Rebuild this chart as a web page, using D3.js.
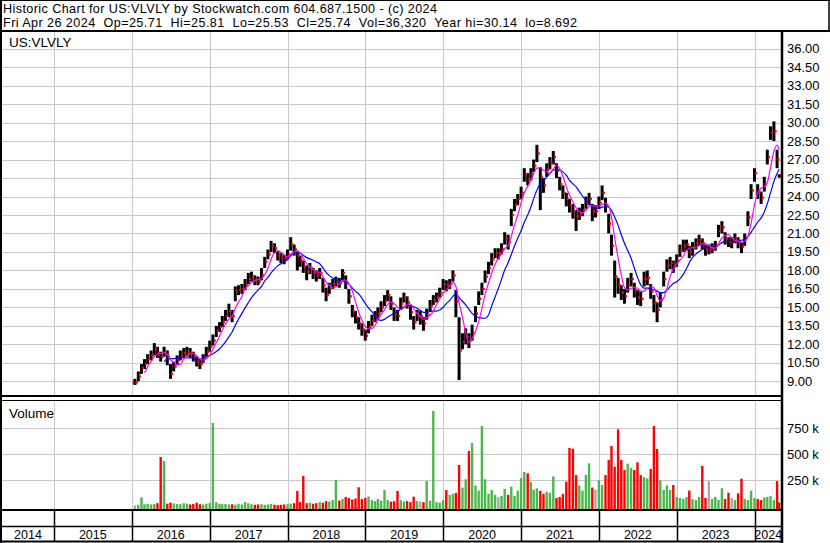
<!DOCTYPE html>
<html>
<head>
<meta charset="utf-8">
<script src="https://cdn.jsdelivr.net/npm/d3@7"></script>
<style>
body { margin: 0; background: #fff; }
svg { display: block; font-family: "Liberation Sans", Arial, sans-serif; }
</style>
</head>
<body>
<svg id="chart" width="830" height="543"></svg>
<script>
// half-month samples, Jan 16 2016 .. Apr 16 2024, then the last session (Apr 26 2024)
let closes = [
  8.9, 9.4, 10.1, 10.4, 10.8, 11.1, 11.6, 11.3, 11.0, 11.4, 11.0, 9.6, 10.2, 10.7, 11.0, 11.3, 11.4, 11.3, 11.0, 10.6, 10.4, 10.9, 11.4,
  11.8, 12.3, 13.1, 13.4, 13.8, 14.3, 14.7, 14.3, 16.3, 16.4, 16.5, 16.8, 17.3, 17.5, 17.2, 17.1, 17.6, 18.7, 19.3, 20.0, 19.8, 19.2, 19.0, 18.9,
  19.3, 20.1, 19.7, 19.2, 18.8, 18.3, 17.9, 18.2, 17.8, 17.6, 17.8, 16.8, 16.0, 16.6, 16.9, 17.1, 17.0, 17.8, 17.0, 15.9, 14.7, 14.2, 13.7, 13.2,
  12.7, 13.4, 13.9, 14.2, 14.5, 15.0, 15.5, 16.0, 15.3, 14.5, 14.3, 15.3, 15.8, 15.4, 14.6, 13.8, 14.3, 14.3, 13.7, 14.4, 15.1, 15.6, 15.8, 16.2,
  16.9, 16.8, 16.9, 17.6, 15.5, 11.5, 12.2, 12.6, 12.3, 12.9, 14.5, 15.7, 16.5, 17.5, 18.2, 18.9, 19.4, 19.4, 19.7, 20.6, 20.3, 22.5, 23.3, 23.8,
  24.3, 25.8, 25.4, 25.8, 26.5, 27.5, 25.6, 24.9, 26.2, 26.7, 27.2, 26.1, 25.0, 24.3, 23.8, 23.3, 22.8, 22.4, 22.6, 22.9, 23.5, 23.8, 22.8, 22.8,
  23.5, 24.3, 23.3, 21.8, 20.0, 17.5, 16.8, 16.2, 15.9, 16.8, 17.3, 16.4, 15.8, 15.7, 17.3, 17.4, 16.3, 15.4, 14.8, 15.6, 17.3, 18.4, 18.6, 18.3,
  18.8, 19.6, 20.0, 20.1, 19.5, 19.8, 20.2, 20.5, 20.2, 19.7, 19.7, 19.8, 20.0, 21.2, 21.5, 20.6, 20.3, 20.3, 20.6, 20.3, 19.9, 20.6, 22.3, 24.5,
  25.9, 24.4, 23.9, 25.0, 27.2, 29.2, 29.3, 27.0, 25.74];

let highs = [
  9.2, 9.8, 10.4, 10.8, 11.2, 11.5, 12.1, 11.8, 11.4, 11.8, 11.5, 10.4, 10.6, 11.1, 11.5, 11.7, 11.8, 11.7, 11.4, 11.0, 10.8, 11.2, 11.8,
  12.3, 12.8, 13.5, 13.8, 14.3, 14.8, 15.3, 14.8, 16.7, 16.8, 16.9, 17.3, 17.8, 17.9, 17.6, 17.5, 18.2, 19.1, 19.7, 20.4, 20.2, 19.6, 19.4, 19.3,
  19.7, 20.7, 20.1, 19.6, 19.2, 18.8, 18.4, 18.6, 18.2, 18.0, 18.2, 17.4, 16.6, 17.0, 17.3, 17.5, 17.4, 18.1, 17.6, 16.5, 15.2, 14.7, 14.2, 13.7,
  13.2, 13.9, 14.4, 14.7, 15.0, 15.5, 16.0, 16.4, 15.9, 15.0, 14.8, 15.8, 16.2, 15.9, 15.1, 14.3, 14.8, 14.7, 14.2, 14.9, 15.6, 16.0, 16.2, 16.6,
  17.3, 17.2, 17.3, 18.0, 16.4, 14.2, 12.9, 13.3, 12.9, 13.6, 15.1, 16.3, 17.0, 18.0, 18.7, 19.4, 19.8, 19.8, 20.2, 21.1, 20.9, 23.0, 23.8, 24.2,
  24.8, 26.3, 25.9, 26.3, 27.0, 28.2, 26.4, 25.5, 26.7, 27.2, 27.7, 26.7, 25.6, 24.9, 24.3, 23.8, 23.4, 22.9, 23.1, 23.4, 24.0, 24.3, 23.4, 23.3,
  24.0, 24.9, 23.9, 22.6, 20.9, 18.8, 17.4, 16.8, 16.5, 17.4, 17.8, 17.0, 16.4, 16.3, 17.9, 18.0, 16.9, 16.0, 15.4, 16.2, 17.9, 18.9, 19.1, 18.8,
  19.3, 20.1, 20.5, 20.5, 20.0, 20.3, 20.6, 20.9, 20.6, 20.1, 20.1, 20.2, 20.4, 21.7, 22.0, 21.1, 20.7, 20.7, 21.0, 20.7, 20.3, 21.0, 22.8, 25.0,
  26.3, 25.0, 24.4, 25.6, 27.8, 29.7, 30.1, 27.8, 25.81];

let lows = [
  8.7, 9.0, 9.6, 10.0, 10.4, 10.7, 11.1, 10.9, 10.6, 11.0, 10.3, 9.2, 9.8, 10.3, 10.7, 10.9, 11.0, 10.9, 10.6, 10.2, 10.0, 10.5, 11.0,
  11.4, 11.9, 12.6, 13.0, 13.4, 13.9, 14.2, 13.8, 15.5, 16.0, 16.1, 16.4, 16.9, 17.1, 16.8, 16.8, 17.2, 18.2, 18.9, 19.5, 19.4, 18.8, 18.6, 18.5,
  18.9, 19.6, 19.2, 18.0, 18.3, 17.8, 17.2, 17.7, 17.3, 17.1, 17.3, 16.2, 15.5, 16.1, 16.5, 16.7, 16.6, 17.2, 16.5, 15.3, 14.2, 13.7, 13.2, 12.7,
  12.3, 12.9, 13.5, 13.8, 14.1, 14.6, 15.1, 15.5, 14.8, 13.9, 13.9, 14.8, 15.4, 14.9, 14.0, 13.2, 13.9, 13.6, 13.1, 14.0, 14.7, 15.2, 15.4, 15.8,
  16.4, 16.3, 16.5, 17.1, 14.2, 9.1, 11.6, 12.0, 11.7, 12.3, 13.8, 15.2, 16.0, 17.0, 17.7, 18.4, 19.0, 18.9, 19.3, 20.1, 19.7, 21.6, 22.8, 23.3,
  23.8, 25.2, 24.9, 25.3, 26.0, 26.8, 22.9, 24.3, 25.6, 26.2, 26.6, 25.5, 24.5, 23.8, 23.2, 22.7, 22.2, 21.2, 22.1, 22.4, 23.0, 23.3, 22.0, 22.3,
  23.0, 23.7, 22.7, 21.0, 19.2, 15.8, 16.1, 15.6, 15.3, 16.2, 16.7, 15.8, 15.2, 15.1, 16.7, 16.8, 15.7, 14.6, 13.8, 15.0, 16.7, 17.9, 18.1, 17.8,
  18.3, 19.1, 19.5, 19.6, 19.0, 19.2, 19.7, 20.0, 19.7, 19.2, 19.3, 19.4, 19.6, 20.7, 21.0, 20.1, 19.9, 19.8, 20.2, 19.8, 19.4, 20.0, 21.6, 23.8,
  25.2, 23.8, 23.4, 24.4, 26.6, 28.6, 28.5, 26.3, 25.53];

// peak daily volume in each half month, thousands of shares
let volumes = [
  8, 15, 86, 20, 25, 18, 22, 30, 474, 436, 25, 35, 28, 22, 20, 30, 25, 18, 22, 35, 20, 18, 25,
  30, 801, 40, 25, 20, 22, 18, 20, 15, 25, 18, 42, 30, 20, 15, 18, 20, 15, 18, 22, 15, 12, 15, 18,
  20, 25, 30, 147, 40, 291, 30, 35, 25, 30, 40, 35, 50, 45, 60, 253, 55, 70, 90, 80, 65, 75, 183, 70,
  80, 95, 60, 50, 70, 55, 157, 60, 45, 50, 147, 60, 45, 50, 40, 93, 50, 45, 40, 243, 55, 916, 40, 35,
  60, 157, 110, 120, 130, 397, 180, 260, 532, 609, 200, 150, 772, 260, 120, 157, 110, 90, 100, 167, 110, 189, 100, 150,
  272, 330, 317, 234, 160, 173, 150, 120, 140, 130, 288, 80, 90, 120, 237, 561, 554, 301, 200, 150, 301, 413, 180, 160,
  250, 205, 300, 445, 580, 380, 740, 445, 350, 410, 370, 349, 423, 300, 280, 269, 359, 772, 551, 250, 157, 200, 157, 205,
  90, 80, 70, 90, 151, 70, 60, 90, 388, 80, 243, 70, 90, 60, 173, 70, 130, 80, 60, 125, 265, 70, 60, 150,
  80, 70, 60, 86, 90, 100, 61, 243, 36];

let priceTicks = [9, 10.5, 12, 13.5, 15, 16.5, 18, 19.5, 21, 22.5, 24, 25.5, 27, 28.5, 30, 31.5, 33, 34.5, 36];
let volTicks = [250, 500, 750];
let years = [2014, 2015, 2016, 2017, 2018, 2019, 2020, 2021, 2022, 2023, 2024];

let titleLine1 = "Historic Chart for US:VLVLY by Stockwatch.com 604.687.1500 - (c) 2024";
let titleLine2 = "Fri Apr 26 2024  Op=25.71  Hi=25.81  Lo=25.53  Cl=25.74  Vol=36,320  Year hi=30.14  lo=8.692";

let dates = d3.range(1, 200).map(k => new Date(2016, Math.floor(k / 2), k % 2 ? 16 : 1));
dates.push(new Date(2024, 3, 26));

let data = dates.map((d, i) => ({
  date: d, close: closes[i], high: highs[i], low: lows[i], vol: volumes[i] * 1000,
  open: i > 0 ? closes[i - 1] : closes[i]
}));

const plotLeft = 2, plotRight = 782;
const priceTop = 32, priceBottom = 395;
const volTop = 401, volBottom = 509;

let svg = d3.select("#chart");

let x = d3.scaleTime().
domain([new Date(2016, 0, 1), new Date(2024, 0, 1)]).
range([131.7, 754.5]);

let y = d3.scaleLinear().domain([9, 36]).range([381.3, 48.7]);
let yv = d3.scaleLinear().domain([0, 750000]).range([506.3, 428.3]);

let yearX = years.map(yr => x(new Date(yr, 0, 1)));

svg.append("rect").attr("width", 830).attr("height", 543).attr("fill", "#fff");

// clip paths
svg.append("clipPath").attr("id", "clipPrice").
append("rect").attr("x", plotLeft).attr("y", priceTop).
attr("width", plotRight - plotLeft - 1).attr("height", priceBottom - priceTop);
svg.append("clipPath").attr("id", "clipVol").
append("rect").attr("x", plotLeft).attr("y", volTop).
attr("width", plotRight - plotLeft - 1).attr("height", volBottom - volTop);

const gridColor = "#c8c8c8";

// price grid
let gPrice = svg.append("g").attr("clip-path", "url(#clipPrice)");
gPrice.selectAll("line.h").data(priceTicks).enter().append("line").
attr("x1", plotLeft).attr("x2", plotRight).
attr("y1", d => Math.round(y(d)) + 0.5).attr("y2", d => Math.round(y(d)) + 0.5).
attr("stroke", gridColor);
gPrice.selectAll("line.v").data(yearX.slice(1)).enter().append("line").
attr("x1", d => Math.round(d) + 0.5).attr("x2", d => Math.round(d) + 0.5).
attr("y1", priceTop).attr("y2", priceBottom).
attr("stroke", gridColor);

// volume grid
let gVol = svg.append("g").attr("clip-path", "url(#clipVol)");
gVol.selectAll("line.h").data(volTicks).enter().append("line").
attr("x1", plotLeft).attr("x2", plotRight).
attr("y1", d => Math.round(yv(d * 1000)) + 0.5).attr("y2", d => Math.round(yv(d * 1000)) + 0.5).
attr("stroke", gridColor);
gVol.selectAll("line.v").data(yearX.slice(1)).enter().append("line").
attr("x1", d => Math.round(d) + 0.5).attr("x2", d => Math.round(d) + 0.5).
attr("y1", volTop).attr("y2", volBottom).
attr("stroke", gridColor);

// volume bars
gVol.selectAll("rect.vb").data(data).enter().append("rect").
attr("x", d => x(d.date) - 1.2).
attr("width", 2.4).
attr("y", d => yv(d.vol)).
attr("height", d => volBottom + 1 - yv(d.vol)).
attr("fill", d => d.close > d.open ? "#4cb84c" : d.close < d.open ? "#ff0000" : "#a8a8a8");

// price bars
gPrice.selectAll("rect.hl").data(data).enter().append("rect").
attr("x", d => x(d.date) - 1.5).
attr("width", 3).
attr("y", d => y(d.high)).
attr("height", d => Math.max(1, y(d.low) - y(d.high))).
attr("fill", "#000");
gPrice.selectAll("rect.cl").data(data).enter().append("rect").
attr("x", d => x(d.date) + 0.5).
attr("width", 2).
attr("y", d => y(d.close) - 1).
attr("height", 2).
attr("fill", "#ff0000");
gPrice.selectAll("rect.op").data(data).enter().append("rect").
attr("x", d => x(d.date) - 2.5).
attr("width", 2).
attr("y", d => y(d.open) - 1).
attr("height", 2).
attr("fill", "#ff0000");

// moving averages of the closes
function movingAverage(n) {
  return data.map((d, i) => i < n - 1 ? null :
  { date: d.date, value: d3.mean(data.slice(i - n + 1, i + 1), e => e.close) }).
  filter(d => d);
}
let line = d3.line().x(d => x(d.date)).y(d => y(d.value)).curve(d3.curveMonotoneX);
gPrice.append("path").datum(movingAverage(10)).
attr("d", line).attr("fill", "none").attr("stroke", "#0000ff").attr("stroke-width", 1.2);
gPrice.append("path").datum(movingAverage(4)).
attr("d", line).attr("fill", "none").attr("stroke", "#ff00ff").attr("stroke-width", 1.2);

// frame lines
function hline(y0, x1, x2, w) {
  svg.append("line").attr("x1", x1).attr("x2", x2).attr("y1", y0).attr("y2", y0).
  attr("stroke", "#000").attr("stroke-width", w);
}
function vline(x0, y1, y2, w) {
  svg.append("line").attr("x1", x0).attr("x2", x0).attr("y1", y1).attr("y2", y2).
  attr("stroke", "#000").attr("stroke-width", w);
}
hline(0.5, 0, 830, 1);
hline(31, 0, 830, 2);
hline(396, 0, plotRight, 2);
hline(400.5, 0, plotRight, 1);
hline(510, 0, plotRight, 2);
hline(526.5, 0, plotRight, 1.5);
hline(541.5, 0, plotRight, 2);
vline(1, 0, 543, 2);
vline(plotRight, 31, 543, 2.5);
vline(829, 0, 32, 1.5);

// year cells
yearX.slice(1).forEach(xx => vline(Math.round(xx) + 0.5, 510, 542, 1.5));
let cellEdges = [plotLeft].concat(yearX.slice(1), [plotRight]);
svg.append("g").selectAll("text").data(years).enter().append("text").
attr("x", (d, i) => (cellEdges[i] + cellEdges[i + 1]) / 2).
attr("y", 539).
attr("text-anchor", "middle").
attr("font-size", 12.5).
text(d => d);

// right axis labels
svg.append("g").selectAll("text").data(priceTicks).enter().append("text").
attr("x", 787).attr("y", d => y(d) + 4.5).
attr("font-size", 13).
text(d => d.toFixed(2));
svg.append("g").selectAll("text").data(volTicks).enter().append("text").
attr("x", 787).attr("y", d => yv(d * 1000) + 4.5).
attr("font-size", 13).
text(d => d + " k");

// titles (stretched to the reference widths)
svg.append("text").attr("x", 3).attr("y", 13.2).attr("font-size", 12.6).
attr("textLength", 434).attr("lengthAdjust", "spacing").
style("white-space", "pre").text(titleLine1);
svg.append("text").attr("x", 3).attr("y", 27.4).attr("font-size", 12.6).
attr("textLength", 574).attr("lengthAdjust", "spacing").
style("white-space", "pre").text(titleLine2);
svg.append("text").attr("x", 9).attr("y", 46.5).attr("font-size", 13.5).text("US:VLVLY");
svg.append("text").attr("x", 9).attr("y", 417.5).attr("font-size", 13.5).text("Volume");
</script>
</body>
</html>
